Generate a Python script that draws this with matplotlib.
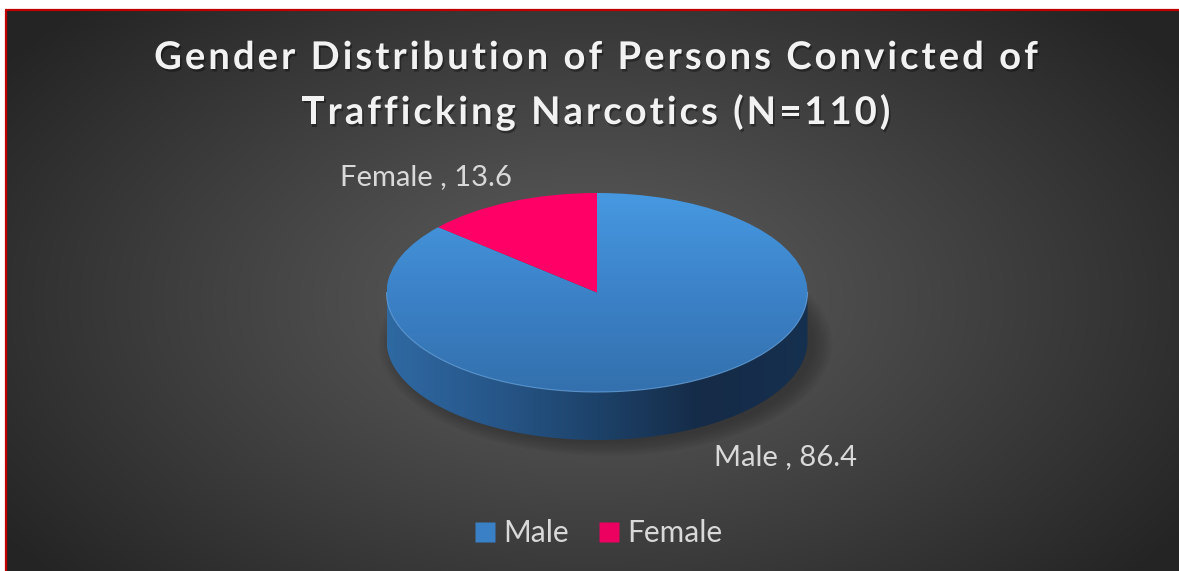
import numpy as np
import matplotlib
matplotlib.use("Agg")
import matplotlib.pyplot as plt
from matplotlib import patheffects as pe
from matplotlib.patches import Polygon, Ellipse
from matplotlib.lines import Line2D
from matplotlib.colors import LinearSegmentedColormap, to_rgb
from matplotlib.font_manager import findfont, FontProperties
from matplotlib.ft2font import FT2Font

# ---- data -------------------------------------------------------------
categories = ["Male", "Female"]
percentages = [86.4, 13.6]
slice_colors = ["#3d84cc", "#ff0066"]
legend_colors = ["#3a80c6", "#ec0060"]
title_lines = ["Gender Distribution of Persons Convicted of",
               "Trafficking Narcotics (N=110)"]

# ---- canvas -----------------------------------------------------------
W, H = 1179, 571
fig = plt.figure(figsize=(W / 100, H / 100), dpi=100)
fig.patch.set_facecolor("white")

bg = fig.add_axes([0, 0, 1, 1])
bg.set_xlim(0, W)
bg.set_ylim(H, 0)
bg.axis("off")

# dark radial backdrop
x0, y0 = 7, 11
yy, xx = np.mgrid[y0:H, x0:W].astype(float)
r = np.sqrt(((xx - 590) / 720.0) ** 2 + ((yy - 300) / 420.0) ** 2)
r = np.clip(r, 0, 1)
inner = np.array(to_rgb("#5d5d5d"))
outer = np.array(to_rgb("#242424"))
t = r ** 1.1
img = inner[None, None, :] * (1 - t[..., None]) + outer[None, None, :] * t[..., None]
bg.imshow(img, extent=(x0, W, H, y0), origin="upper", interpolation="bilinear",
          aspect="auto", zorder=0)

# red frame on the top and left edges
bg.plot([6, 6], [10, H], color="#c00000", lw=1.6, solid_capstyle="butt", zorder=1)
bg.plot([5.2, W], [10, 10], color="#c00000", lw=1.6, solid_capstyle="butt", zorder=1)


# ---- title with letter spacing -----------------------------------------
def spaced_line(ax, text, xc, baseline, size, spacing, **kw):
    prop = FontProperties(family="Lato", weight="bold")
    font = FT2Font(findfont(prop))
    font.set_size(size, 100)
    advances = []
    for ch in text:
        g = font.load_char(ord(ch))
        advances.append(g.linearHoriAdvance / 65536.0)
    total = sum(advances) + spacing * (len(text) - 1)
    x = xc - total / 2.0
    for ch, adv in zip(text, advances):
        if ch != " ":
            ax.text(x, baseline, ch, fontproperties=prop, fontsize=size,
                    ha="left", va="baseline", **kw)
        x += adv + spacing


shadow = [pe.withSimplePatchShadow(offset=(1.2, -1.8), shadow_rgbFace="black",
                                   alpha=0.35)]
spaced_line(bg, title_lines[0], 596, 69, 27.5, 3.0, color="#f2f2f2",
            path_effects=shadow, zorder=5)
spaced_line(bg, title_lines[1], 596, 124, 27.5, 3.0, color="#f2f2f2",
            path_effects=shadow, zorder=5)

# ---- 3-D pie ----------------------------------------------------------
cx, cy, rx, ry, depth_px = 597, 292.5, 210.5, 99.5, 48
d = depth_px / ry

pa = fig.add_axes([0, 0, 1, 1])
pa.patch.set_alpha(0)

# soft drop shadow under the disc, mostly toward the lower right
for k in range(8):
    sh = Ellipse((0.04, -d - 0.03), 1.98 + 0.025 * k, 1.98 + 0.04 * k,
                 facecolor="black", edgecolor="none", alpha=0.03, zorder=1)
    pa.add_patch(sh)

# front wall of the disc
tt = np.linspace(np.pi, 2 * np.pi, 300)
wall_pts = np.vstack([np.c_[np.cos(tt), np.sin(tt)],
                      np.c_[np.cos(tt[::-1]), np.sin(tt[::-1]) - d]])
wall = Polygon(wall_pts, closed=True, facecolor="none", edgecolor="none", zorder=2)
pa.add_patch(wall)
wall_cmap = LinearSegmentedColormap.from_list(
    "wall", ["#2f69a2", "#27578a", "#1d4269", "#152b47", "#16304f"])
wall_img = pa.imshow(np.linspace(0, 1, 256)[None, :], cmap=wall_cmap,
                     extent=(-1, 1, -1 - d, 0), origin="lower", aspect="auto",
                     zorder=2, interpolation="bilinear")
wall_img.set_clip_path(wall)

# top face
wedges, _ = pa.pie(percentages, colors=slice_colors, startangle=90,
                   counterclock=False, radius=1, center=(0, 0),
                   wedgeprops=dict(linewidth=0, zorder=3))
for w in wedges:
    w.set_zorder(3)
top_cmap = LinearSegmentedColormap.from_list("top", ["#3370ad", "#3c82c8", "#4699e1"])
top_img = pa.imshow(np.linspace(0, 1, 256)[:, None], cmap=top_cmap,
                    extent=(-1, 1, -1, 1), origin="lower", aspect="auto",
                    zorder=3.5, interpolation="bilinear")
top_img.set_clip_path(wedges[0])
wedges[0].set_facecolor("none")
wedges[1].set_zorder(4)

# light rim along the front edge of the top face
pa.plot(np.cos(tt), np.sin(tt), color="#6aaae6", lw=0.8, alpha=0.7, zorder=4)

pa.set_aspect("auto")
pa.set_xlim(-cx / rx, (W - cx) / rx)
pa.set_ylim(-(H - cy) / ry, cy / ry)
pa.axis("off")

# ---- data labels ------------------------------------------------------
label_color = "#d9d9d9"
bg.text(426, 177, f"{categories[1]} , {percentages[1]}", ha="center", va="center",
        fontsize=21, family="Lato", color=label_color, zorder=6)
bg.text(785, 457, f"{categories[0]} , {percentages[0]}", ha="center", va="center",
        fontsize=21, family="Lato", color=label_color, zorder=6)

# ---- legend -----------------------------------------------------------
handles = [Line2D([], [], ls="none", marker="s", markersize=14,
                  markerfacecolor=c, markeredgecolor="none") for c in legend_colors]
leg = fig.legend(handles, categories, loc="center",
                 bbox_to_anchor=((W / 2 + 9) / W, 1 - 533 / H),
                 ncol=2, frameon=False, fontsize=21.5, handlelength=0.7,
                 handletextpad=0.25, columnspacing=1.0, borderaxespad=0)
for txt in leg.get_texts():
    txt.set_color(label_color)
    txt.set_family("Lato")

fig.savefig("out.png", dpi=100)
